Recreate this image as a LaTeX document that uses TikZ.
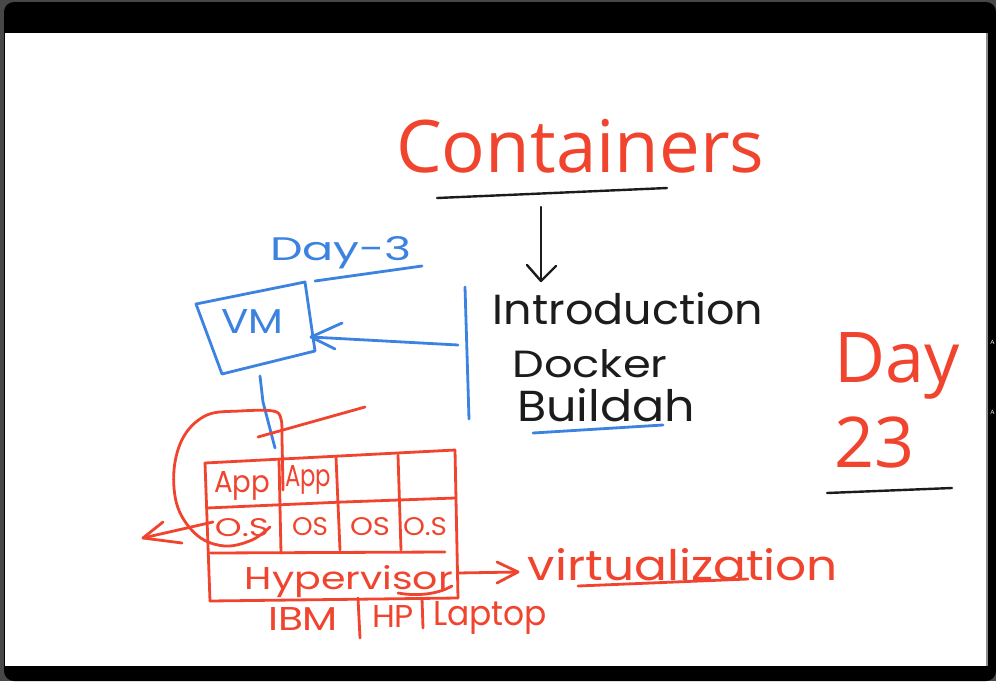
\documentclass[tikz,border=0pt]{standalone}
\usepackage{fontspec}
\usepackage{graphicx}
\setmainfont{Open Sans}
\newfontfamily\hand{Poppins}
\definecolor{mred}{RGB}{240,68,46}
\definecolor{mblue}{RGB}{60,130,225}
\definecolor{mink}{RGB}{28,28,28}
\newcommand{\fitwh}[3]{\resizebox{#1pt}{#2pt}{\hand\fontsize{20}{24}\selectfont #3}}
\tikzset{
  pen/.style={line width=2.8pt, line cap=round, line join=round},
  redpen/.style={pen, draw=mred},
  bluepen/.style={pen, draw=mblue},
  inkpen/.style={pen, draw=mink, line width=2.4pt},
  htext/.style={inner sep=0pt, anchor=base},
  typed/.style={inner sep=0pt, anchor=base west, text=mred, font=\fontsize{70}{70}\selectfont},
}
\begin{document}
\begin{tikzpicture}[x=1pt,y=-1pt]
% frame
\fill[black!72] (0,0) rectangle (996,681);
\fill[black, rounded corners=10pt] (4,2) -- (996,2) -- (996,681) -- (4,681) -- cycle;
\fill[white] (5,33) rectangle (987,666);
\fill[black!45] (986,33) rectangle (988,666);
\node[inner sep=0pt, text=white, font=\sffamily\fontsize{6}{6}\selectfont] (sideA) at (992.5,342) {A};
\node[inner sep=0pt, text=white, font=\sffamily\fontsize{6}{6}\selectfont] (sideB) at (992.5,412) {A};
\useasboundingbox (0,0) rectangle (996,681);

% typed texts
\node[typed] (title) at (396,172) {\resizebox{368pt}{!}{Containers}};
\node[typed] (day) at (834,382) {Day};
\node[typed] (num) at (834,467) {23};

% black ink
\coordinate (tl1) at (437,198);
\coordinate (tl2) at (530,194);
\coordinate (tl3) at (667,188);
\draw[inkpen] (tl1) -- (tl2) -- (tl3);
\coordinate (arrTop) at (541,207);
\coordinate (arrTip) at (541,281);
\coordinate (arrW1) at (527,265);
\coordinate (arrW2) at (556,266);
\draw[inkpen] (arrTop) -- (arrTip);
\draw[inkpen] (arrW1) -- (arrTip) -- (arrW2);
\coordinate (du1) at (827,493);
\coordinate (du2) at (952,488);
\draw[inkpen] (du1) -- (du2);

\node[htext, text=mink] (intro) at (628,324) {\fitwh{270}{32}{Introduction}};
\node[htext, text=mink] (docker) at (590,377) {\fitwh{155}{28}{Docker}};
\node[htext, text=mink] (buildah) at (606,421) {\fitwh{178}{33}{Buildah}};

% blue ink
\node[htext, text=mblue] (day3) at (341,260) {\fitwh{142}{24}{Day-3}};
\coordinate (d3a) at (315,281);
\coordinate (d3b) at (422,266);
\draw[bluepen] (d3a) -- (d3b);
\node[htext, text=mblue] (vm) at (252,333) {\fitwh{62}{24}{VM}};
\coordinate (vm1) at (196,304);
\coordinate (vm2) at (305,282);
\coordinate (vm3) at (315,351);
\coordinate (vm4) at (222,374);
\draw[bluepen] (vm1) -- (vm2) -- (vm3) -- (vm4) -- cycle;
\coordinate (barTop) at (465,287);
\coordinate (barBot) at (469,419);
\draw[bluepen] (barTop) -- (barBot);
\coordinate (vmArrS) at (458,345);
\coordinate (vmArrT) at (311,337);
\coordinate (vmW1) at (342,323);
\coordinate (vmW2) at (335,349);
\draw[bluepen] (vmArrS) -- (vmArrT);
\draw[bluepen] (vmW1) -- (vmArrT) -- (vmW2);
\coordinate (vmDownA) at (260,376);
\coordinate (vmDownB) at (263,402);
\coordinate (vmDownC) at (275,448);
\draw[bluepen] (vmDownA) -- (vmDownB) -- (vmDownC);
\coordinate (bu1) at (533,433);
\coordinate (bu2) at (663,425);
\draw[bluepen] (bu1) -- (bu2);

% red ink
\coordinate (sl1) at (258,437);
\coordinate (sl2) at (365,407);
\draw[redpen] (sl1) -- (sl2);
\draw[redpen] plot[smooth, tension=0.6] coordinates {(283,490) (282,440) (281,419) (273,411) (240,411) (207,415) (184,436) (174,470) (178,508) (198,536) (225,546) (252,540) (270,527)};

% grid
\coordinate (gTL) at (205,463);
\coordinate (gTR) at (455,450);
\coordinate (gBL) at (210,601);
\coordinate (gBR) at (458,598);
\draw[redpen] (gTL) -- (gTR);
\draw[redpen] (gTL) -- (gBL);
\draw[redpen] (gTR) -- (gBR);
\draw[redpen] (gBL) -- (gBR);
\coordinate (r1a) at (207,508);
\coordinate (r1b) at (343,502);
\coordinate (r1c) at (455,498);
\draw[redpen] (r1a) -- (r1b) -- (r1c);
\coordinate (r2a) at (210,553);
\coordinate (r2b) at (445,552);
\draw[redpen] (r2a) -- (r2b);
\coordinate (c1a) at (279,460);
\coordinate (c1b) at (281,553);
\draw[redpen] (c1a) -- (c1b);
\coordinate (c2a) at (336,457);
\coordinate (c2b) at (340,550);
\draw[redpen] (c2a) -- (c2b);
\coordinate (c3a) at (398,455);
\coordinate (c3b) at (401,550);
\draw[redpen] (c3a) -- (c3b);

\node[htext, text=mred] (app1) at (242,492) {\fitwh{56}{21}{App}};
\node[htext, text=mred] (app2) at (308,486) {\fitwh{46}{21}{App}};
\node[htext, text=mred] (os1) at (242,536) {\fitwh{54}{18}{O.S}};
\node[htext, text=mred] (os2) at (310,535) {\fitwh{36}{18}{OS}};
\node[htext, text=mred] (os3) at (370,535) {\fitwh{40}{18}{OS}};
\node[htext, text=mred] (os4) at (425,535) {\fitwh{44}{18}{O.S}};
\node[htext, text=mred] (hyp) at (349,589) {\fitwh{208}{24}{Hypervisor}};
\coordinate (hu1) at (398,593);
\coordinate (hu2) at (452,586);
\draw[redpen] (hu1) .. controls (420,597) and (440,593) .. (hu2);

\coordinate (haS) at (457,573);
\coordinate (haT) at (518,572);
\coordinate (haW1) at (497,562);
\coordinate (haW2) at (497,583);
\draw[redpen] (haS) -- (haT);
\draw[redpen] (haW1) -- (haT) -- (haW2);
\node[htext, text=mred] (virt) at (683,580) {\fitwh{310}{32}{virtualization}};
\coordinate (vu1) at (578,586);
\coordinate (vu2) at (748,579);
\draw[redpen] (vu1) -- (vu2);

\coordinate (laS) at (213,522);
\coordinate (laT) at (143,538);
\coordinate (laW1) at (163,522);
\coordinate (laW2) at (182,543);
\draw[redpen] (laS) -- (laT);
\draw[redpen] (laW1) -- (laT) -- (laW2);

\node[htext, text=mred] (ibm) at (303,630) {\fitwh{70}{23}{IBM}};
\coordinate (b1a) at (358,598);
\coordinate (b1b) at (360,638);
\draw[redpen] (b1a) -- (b1b);
\node[htext, text=mred] (hp) at (393,627) {\fitwh{42}{22}{HP}};
\coordinate (b2a) at (422,598);
\coordinate (b2b) at (423,628);
\draw[redpen] (b2a) -- (b2b);
\node[htext, text=mred] (laptop) at (490,625) {\fitwh{114}{24}{Laptop}};
\end{tikzpicture}
\end{document}
